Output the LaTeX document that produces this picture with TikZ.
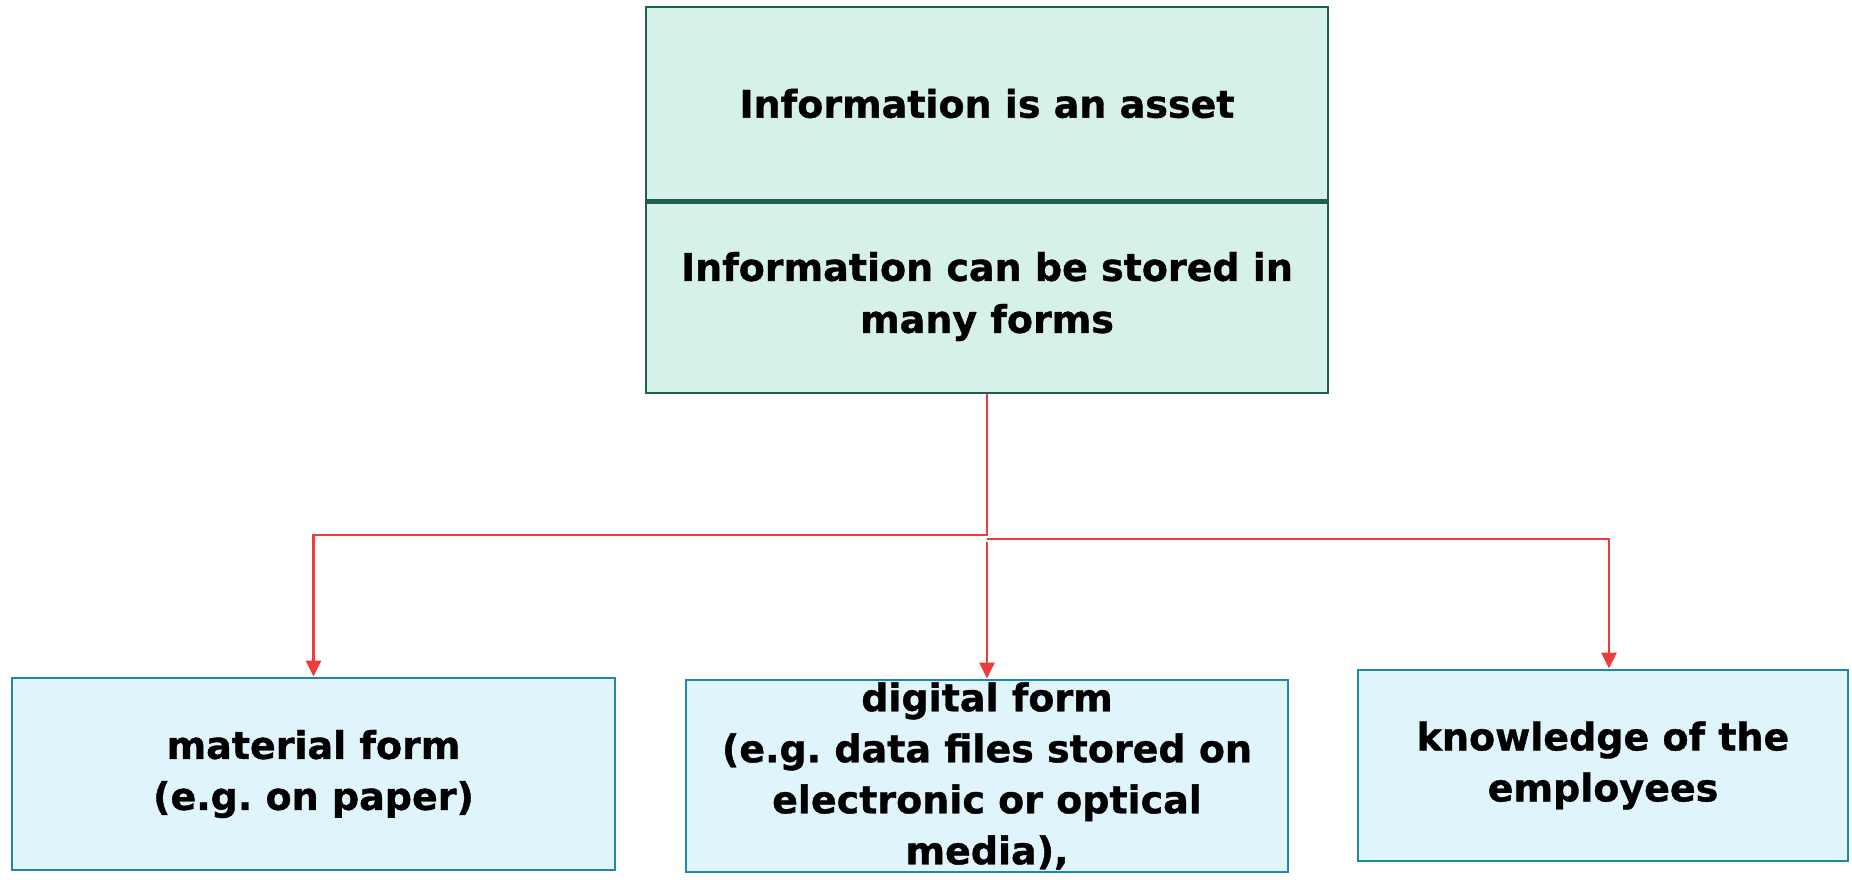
\documentclass[tikz,border=0pt]{standalone}
\usepackage{fontspec}
\setmainfont{DejaVu Sans}[BoldFeatures={FakeBold=1}]
\frenchspacing
\usetikzlibrary{arrows.meta,calc}

\definecolor{topfill}{HTML}{D6F0EA}
\definecolor{topedge}{HTML}{1F5D50}
\definecolor{formfill}{HTML}{E0F5FB}
\definecolor{formedge}{HTML}{1B89A7}
\definecolor{link}{HTML}{EF3B3B}

\tikzset{
  headcell/.style={draw=topedge, fill=topfill, line width=2.8pt,
    minimum width=682pt, minimum height=193pt, inner sep=0pt,
    align=center, font=\bfseries\fontsize{38}{52}\selectfont},
  formbox/.style={draw=formedge, fill=formfill, line width=2.8pt,
    minimum height=192pt, inner sep=0pt,
    align=center, font=\bfseries\fontsize{38}{51}\selectfont},
  branch/.style={draw=link, line width=2.8pt,
    -{Triangle[length=16pt,width=15pt]}}
}

\begin{document}
\begin{tikzpicture}[x=1pt,y=-1pt]
  \fill[white] (0,0) rectangle (1852,879);
  \useasboundingbox (0,0) rectangle (1852,879);

  % two-cell header box
  \node[headcell] (asset) at (987,103.5) {Information is an asset};
  \node[headcell] (stored) at (987,296.5) {Information can be stored in\\many forms};
  \draw[topedge, line width=4.5pt] (asset.south west) -- (asset.south east);

  % the three forms
  \node[formbox, minimum width=603pt] (material) at (313.5,774)
    {material form\\(e.g. on paper)};
  \node[formbox, minimum width=602pt] (digital) at (987,776)
    {digital form\\(e.g. data files stored on\\electronic or optical\\media),};
  \node[formbox, minimum width=490pt, minimum height=191pt] (knowledge) at (1603,765.5)
    {knowledge of the\\employees};

  % connectors
  \coordinate (forkL) at (987,535);
  \coordinate (forkR) at (987,539);
  \coordinate (forkM) at (987,542);
  \draw[branch] (stored.south) -- (forkL) -| (material.north);
  \draw[branch] (forkR) -| ($(knowledge.north)+(6,0)$);
  \draw[branch] (forkM) -- (digital.north);
\end{tikzpicture}
\end{document}
